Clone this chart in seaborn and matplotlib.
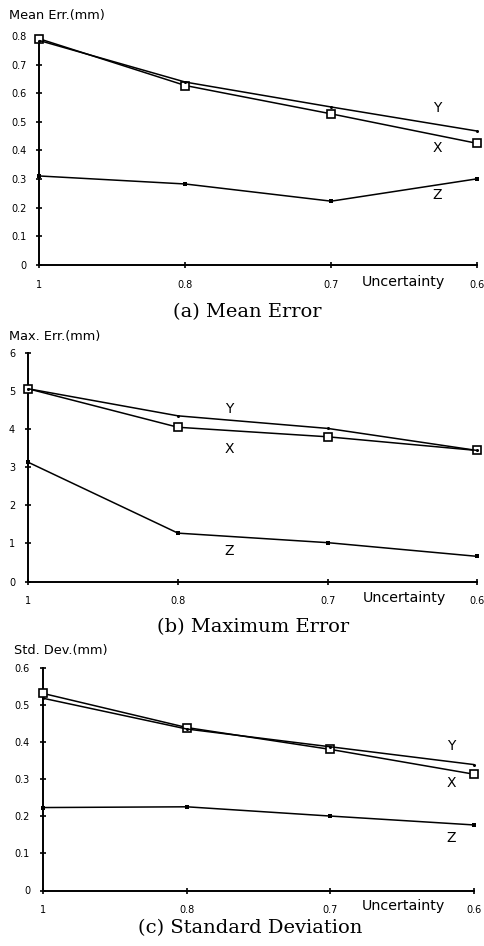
import numpy as np
import pandas as pd
import matplotlib
matplotlib.use("Agg")
import matplotlib.pyplot as plt
import seaborn as sns

# ---------------- data ----------------
uncertainty = ["1", "0.8", "0.7", "0.6"]
series_names = ["X", "Y", "Z"]

mean_x = [0.79, 0.627, 0.528, 0.425]
mean_y = [0.784, 0.639, 0.552, 0.468]
mean_z = [0.311, 0.283, 0.223, 0.301]

max_x = [5.06, 4.05, 3.80, 3.44]
max_y = [5.06, 4.35, 4.02, 3.44]
max_z = [3.13, 1.27, 1.02, 0.66]

std_x = [0.532, 0.440, 0.381, 0.314]
std_y = [0.519, 0.436, 0.388, 0.340]
std_z = [0.224, 0.226, 0.201, 0.177]

ylabels = ["Mean Err.(mm)", "Max. Err.(mm)", "Std. Dev.(mm)"]
captions = ["(a) Mean Error", "(b) Maximum Error", "(c) Standard Deviation"]
xlabel = "Uncertainty"
yticks_a = [0, 0.1, 0.2, 0.3, 0.4, 0.5, 0.6, 0.7, 0.8]
yticks_b = [0, 1, 2, 3, 4, 5, 6]
yticks_c = [0, 0.1, 0.2, 0.3, 0.4, 0.5, 0.6]

# ---------------- style ----------------
sns.set_style("ticks")
plt.rcParams["font.family"] = ["DejaVu Sans"]

W, H = 485, 946
fig = plt.figure(figsize=(W / 100, H / 100), dpi=100)
fig.patch.set_facecolor("white")

def frac(px, py):
    return px / W, 1 - py / H

def axes_rect(left, right, top, bottom):
    return [left / W, 1 - bottom / H, (right - left) / W, (bottom - top) / H]

panels = [
    dict(rect=axes_rect(39.5, 477, 36, 265), data=[mean_x, mean_y, mean_z],
         yticks=yticks_a, ylab=(9, 15), unc=(361.7, 281.7), cap=(247.5, 311.7),
         lab_pos={"Y": (2.73, 0.549), "X": (2.73, 0.409), "Z": (2.73, 0.245)}),
    dict(rect=axes_rect(28.3, 477.3, 353, 581.5), data=[max_x, max_y, max_z],
         yticks=yticks_b, ylab=(9.3, 336), unc=(362.7, 598.3), cap=(253, 626.7),
         lab_pos={"Y": (1.34, 4.53), "X": (1.34, 3.47), "Z": (1.34, 0.80)}),
    dict(rect=axes_rect(43.3, 474, 668.3, 890.5), data=[std_x, std_y, std_z],
         yticks=yticks_c, ylab=(14, 650), unc=(361.7, 905.7), cap=(250, 928.3),
         lab_pos={"Y": (2.84, 0.391), "X": (2.84, 0.289), "Z": (2.84, 0.143)}),
]

marker_style = {
    "X": dict(marker="s", markersize=6, markerfacecolor="white",
              markeredgecolor="black", markeredgewidth=1.2),
    "Y": dict(marker="o", markersize=2.2, markerfacecolor="black",
              markeredgecolor="black", markeredgewidth=0),
    "Z": dict(marker="s", markersize=3.5, markerfacecolor="black",
              markeredgecolor="black", markeredgewidth=0),
}
zorders = {"X": 3, "Y": 4, "Z": 3}

xpos = np.arange(len(uncertainty))

def fmt(v):
    return "0" if v == 0 else f"{v:g}"

for p in panels:
    ax = fig.add_axes(p["rect"])
    ax.set_facecolor("white")
    for name, vals in zip(series_names, p["data"]):
        df = pd.DataFrame({"pos": xpos, "val": vals})
        sns.lineplot(data=df, x="pos", y="val", ax=ax, color="black",
                     linewidth=1.1, clip_on=False, zorder=zorders[name],
                     **marker_style[name])
    for name, (tx, ty) in p["lab_pos"].items():
        ax.text(tx, ty, name, ha="center", va="center", fontsize=10,
                color="black")
    ax.set_xlim(0, len(uncertainty) - 1)
    ax.set_ylim(p["yticks"][0], p["yticks"][-1])
    ax.set_xticks(xpos)
    ax.set_xticklabels(uncertainty)
    ax.set_yticks(p["yticks"])
    ax.set_yticklabels([fmt(v) for v in p["yticks"]])
    ax.set_xlabel("")
    ax.set_ylabel("")
    for s in ["top", "right"]:
        ax.spines[s].set_visible(False)
    for s in ["left", "bottom"]:
        ax.spines[s].set_linewidth(1.4)
        ax.spines[s].set_color("black")
    ax.tick_params(axis="both", direction="inout", length=5, width=1.2,
                   colors="black", labelsize=7)
    ax.tick_params(axis="y", pad=7)
    ax.tick_params(axis="x", pad=8)
    ax.grid(False)

    x0, y0 = frac(*p["ylab"])
    fig.text(x0, y0, ylabels[panels.index(p)], ha="left", va="center",
             fontsize=9.3, color="black")
    x1, y1 = frac(*p["unc"])
    fig.text(x1, y1, xlabel, ha="left", va="center", fontsize=10.3,
             color="black")
    x2, y2 = frac(*p["cap"])
    fig.text(x2, y2, captions[panels.index(p)], ha="center", va="center",
             fontsize=14, family="DejaVu Serif", color="black")

fig.savefig("out.png", dpi=100, facecolor="white")
